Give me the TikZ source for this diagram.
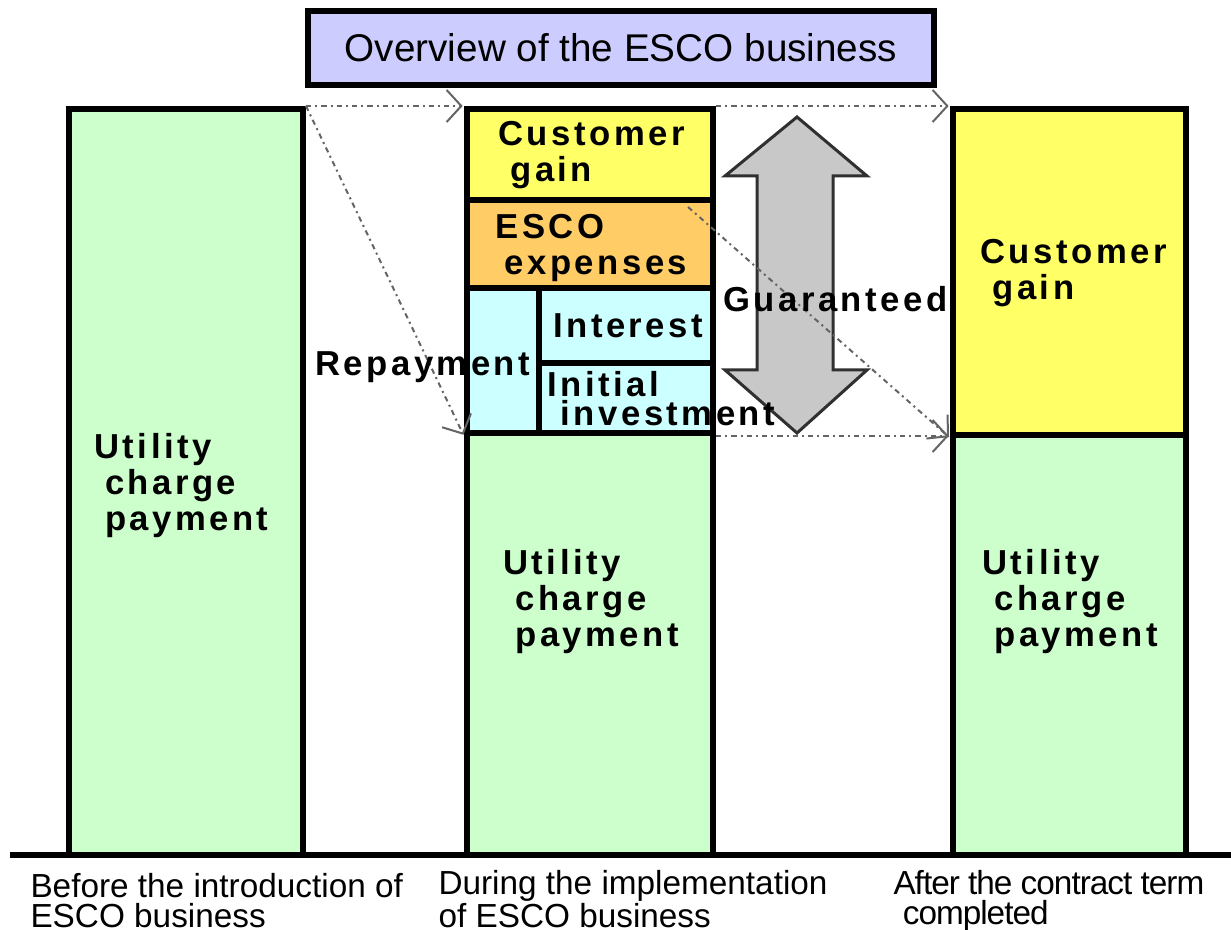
\documentclass[tikz,border=0pt]{standalone}
\usepackage{fontspec}
\setmainfont{Liberation Sans}
\newfontfamily\blockfont{Liberation Sans}[LetterSpace=10]
\usetikzlibrary{arrows.meta,fit}

\definecolor{paygreen}{RGB}{204,255,204}
\definecolor{gainyellow}{RGB}{255,255,102}
\definecolor{escoorange}{RGB}{255,204,102}
\definecolor{loancyan}{RGB}{204,255,255}
\definecolor{titlelilac}{RGB}{204,204,255}
\definecolor{guardgray}{RGB}{200,200,200}
\definecolor{guardedge}{RGB}{48,48,48}
\definecolor{flowgray}{RGB}{100,100,100}

\tikzset{every picture/.style={line width=0.75pt}}
\tikzset{
  block/.style={draw=black, line width=4.5pt, inner sep=0pt},
  blocktext/.style={anchor=base west, inner sep=0pt, align=left, font=\blockfont\bfseries\fontsize{26}{27}\selectfont},
  tagtext/.style={anchor=base west, inner sep=0pt, align=left, font=\fontsize{25}{22.5}\selectfont},
  flow/.style={draw=flowgray, line width=1.5pt, dash pattern=on 4pt off 3pt on 1.5pt off 3pt, shorten >=1pt,
    -{Straight Barb[length=11pt,width=24pt,line width=1.5pt]}},
}

\begin{document}
\begin{tikzpicture}[x=0.75pt,y=0.75pt,yscale=-1,xscale=1]
\useasboundingbox (0,0) rectangle (1231,930);

%Shape: Rectangle (before)
\node [block, fill=paygreen, fit={(69,109) (303,855)}] (payleft) {};
%Shape: Rectangle (during)
\node [block, fill=paygreen, fit={(467,433) (713,855)}] (paymid) {};
\node [block, fill=gainyellow, fit={(467,109) (713,200)}] (gainmid) {};
\node [block, fill=escoorange, fit={(467,200) (713,288)}] (esco) {};
\node [block, fill=loancyan, fit={(467,288) (539,433)}] (repay) {};
\node [block, fill=loancyan, fit={(539,288) (713,363)}] (interest) {};
\node [block, fill=loancyan, fit={(539,363) (713,433)}] (initial) {};
%Shape: Rectangle (after)
\node [block, fill=paygreen, fit={(953,435) (1186,855)}] (payright) {};
\node [block, fill=gainyellow, fit={(953,109) (1186,435)}] (gainright) {};

%Straight Lines: ground
\draw [line width=4.5pt] (10,855) -- (1231,855) ;

%Shape: Title box
\node [block, fill=titlelilac, minimum width=469.5pt, minimum height=55.5pt, font=\fontsize{29}{30}\selectfont] (title) at (621,48) {Overview of the ESCO business};

%Shape: Up Down Arrow
\draw [draw=guardedge, line width=2.25pt, fill=guardgray] (797,117) -- (867,176) -- (833,176) -- (833,370) -- (867,370) -- (797,433) -- (725,370) -- (757,370) -- (757,176) -- (725,176) -- cycle ;

%Straight Lines: flows
\coordinate (escotail) at (688,207);
\draw [flow] (payleft.north east) -- (gainmid.north west) ;
\draw [flow] (payleft.north east) -- (repay.south west) ;
\draw [flow] (gainmid.north east) -- (gainright.north west) ;
\draw [flow] (escotail) -- (gainright.south west) ;
\draw [flow] (initial.south east) -- (initial.south east -| gainright.west) ;

% Text Node
\node [blocktext] (payleftlbl) at (94,530) {Utility\\\hspace*{8pt}charge\\\hspace*{8pt}payment};
% Text Node
\node [blocktext] (paymidlbl) at (503,646) {Utility\\\hspace*{9pt}charge\\\hspace*{9pt}payment};
% Text Node
\node [blocktext] (payrightlbl) at (982,646) {Utility\\\hspace*{9pt}charge\\\hspace*{9pt}payment};
% Text Node
\node [blocktext] (gainmidlbl) at (498,182) {Customer\\\hspace*{9pt}gain};
% Text Node
\node [blocktext] (gainrightlbl) at (980,300) {Customer\\\hspace*{9pt}gain};
% Text Node
\node [blocktext] (escolbl) at (495,275) {ESCO\\\hspace*{7pt}expenses};
% Text Node
\node [blocktext] (interestlbl) at (553,338) {Interest};
% Text Node
\node [blocktext, font=\blockfont\bfseries\fontsize{26}{21}\selectfont] (initiallbl) at (547,425) {Initial\\\hspace*{10pt}investment};
% Text Node
\node [blocktext] (repaylbl) at (315,376) {Repayment};
% Text Node
\node [blocktext] (guardlbl) at (723,312) {Guaranteed};

% Text Node
\node [tagtext] (beforelbl) at (30,927) {Before the introduction of\\ESCO business};
% Text Node
\node [tagtext] (duringlbl) at (438,927) {During the implementation\\of ESCO business};
% Text Node
\node [tagtext, font=\addfontfeature{LetterSpace=-3}\fontsize{25}{22.5}\selectfont] (afterlbl) at (893,924) {After the contract term\\\hspace*{7pt}completed};

\end{tikzpicture}
\end{document}
